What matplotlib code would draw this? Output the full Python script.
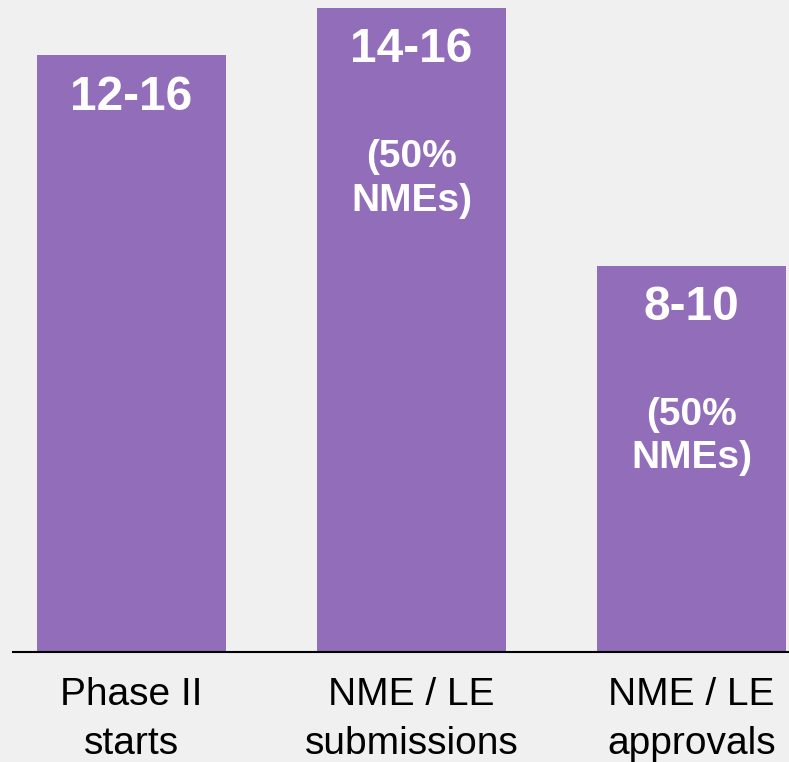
import matplotlib

matplotlib.use("Agg")
import matplotlib.pyplot as plt
import numpy as np

# Bar heights (roughly the midpoints of the stated ranges)
categories = ["Phase II\nstarts", "NME / LE\nsubmissions", "NME / LE\napprovals"]
heights = [13.9, 15, 9]
range_labels = ["12-16", "14-16", "8-10"]
note_labels = ["", "(50%\nNMEs)", "(50%\nNMEs)"]

BG = "#f0f0f0"
PURPLE = "#916dba"

plt.rcParams["font.family"] = ["Liberation Sans", "DejaVu Sans"]

fig = plt.figure(figsize=(7.89, 7.62), dpi=100, facecolor=BG)
ax = fig.add_axes([13 / 789, 110 / 762, 1 - 13 / 789, 652 / 762])
ax.set_facecolor(BG)

x = np.arange(len(categories))
ax.bar(x, heights, width=0.675, color=PURPLE, zorder=2)

for xi, h, rng, note in zip(x, heights, range_labels, note_labels):
    ax.annotate(rng, (xi, h), xytext=(0, -30), textcoords="offset points",
                ha="center", va="center", color="white", fontsize=34.5,
                fontweight="bold")
    if note:
        ax.annotate(note, (xi, h), xytext=(0, -123), textcoords="offset points",
                    ha="center", va="center", color="white", fontsize=28,
                    fontweight="bold", linespacing=1.26)

ax.set_xlim(-0.423, 2.348)
ax.set_ylim(0, 15.19)
ax.set_xticks(x)
ax.set_xticklabels(categories, fontsize=28, linespacing=1.46)
ax.tick_params(axis="x", length=0, pad=18)
ax.set_yticks([])
for side in ("top", "right", "left"):
    ax.spines[side].set_visible(False)
ax.spines["bottom"].set_linewidth(1.5)
ax.spines["bottom"].set_color("#000000")
ax.spines["bottom"].set_zorder(3)

fig.savefig("out.png", dpi=100, facecolor=BG)
